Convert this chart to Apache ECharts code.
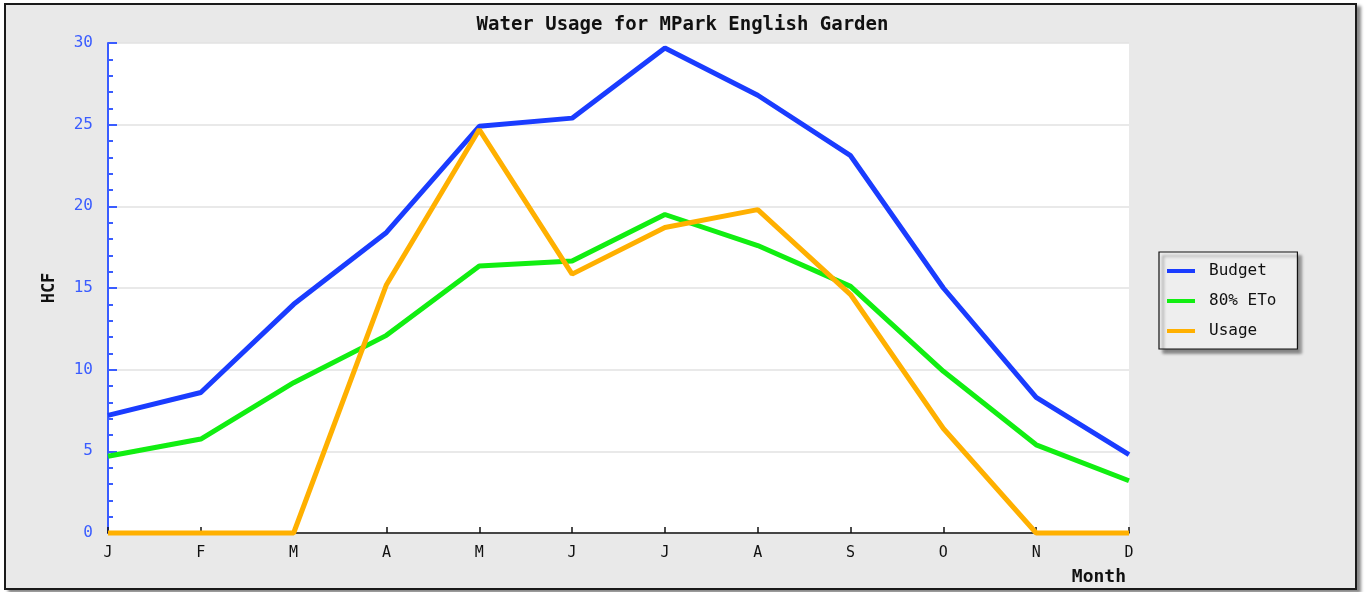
<!DOCTYPE html>
<html>
<head>
<meta charset="utf-8">
<script src="https://cdn.jsdelivr.net/npm/echarts@6/dist/echarts.min.js"></script>
<style>
  html, body { margin: 0; padding: 0; background: #ffffff; }
  #frame { position: absolute; left: 4px; top: 3px; width: 1349px; height: 583px;
           border: 2px solid #1a1a1a; background: #e9e9e9; box-shadow: 4px 3px 3px #888; }
  #chart { position: absolute; left: 0; top: 0; width: 1365px; height: 592px; }
</style>
</head>
<body>
<div id="frame"></div>
<div id="chart"></div>
<script>
const months = ['J', 'F', 'M', 'A', 'M', 'J', 'J', 'A', 'S', 'O', 'N', 'D'];
const budget = [7.2, 8.6, 14.0, 18.4, 24.9, 25.4, 29.7, 26.8, 23.1, 15.0, 8.3, 4.8];
const eto80 = [4.7, 5.75, 9.2, 12.1, 16.35, 16.65, 19.5, 17.6, 15.1, 9.9, 5.4, 3.2];
const usage = [0, 0, 0, 15.2, 24.7, 15.85, 18.7, 19.8, 14.6, 6.4, 0, 0];
const seriesNames = ['Budget', '80% ETo', 'Usage'];
const colors = ['#1a3cff', '#11ee11', '#ffb000'];

const mono = 'DejaVu Sans Mono';
const chart = echarts.init(document.getElementById('chart'), null, { renderer: 'canvas' });
chart.setOption({
  backgroundColor: 'transparent',
  animation: false,
  color: colors,
  title: {
    text: 'Water Usage for MPark English Garden',
    left: 'center', top: 11,
    textStyle: { fontFamily: mono, fontWeight: 'bold', fontSize: 19, color: '#111' }
  },
  legend: {
    orient: 'vertical',
    left: 1159, top: 252,
    padding: [11, 21, 10, 8],
    itemGap: 14,
    itemWidth: 28, itemHeight: 4,
    icon: 'rect',
    backgroundColor: '#eeeeee',
    borderColor: '#111', borderWidth: 1.2,
    shadowColor: 'rgba(0,0,0,0.45)', shadowBlur: 3, shadowOffsetX: 4, shadowOffsetY: 4,
    textStyle: { fontFamily: mono, fontSize: 16, color: '#111', padding: [0, 0, 0, 9] },
    data: seriesNames
  },
  grid: {
    left: 108, right: 236, top: 43, bottom: 59,
    show: true, backgroundColor: '#ffffff', borderWidth: 0
  },
  xAxis: {
    type: 'category',
    data: months,
    boundaryGap: false,
    name: 'Month',
    nameLocation: 'end',
    nameGap: 0,
    nameTextStyle: { fontFamily: mono, fontWeight: 'bold', fontSize: 18, color: '#111',
                     align: 'right', verticalAlign: 'top', padding: [35, 3, 0, 0] },
    axisLine: { lineStyle: { color: '#111', width: 1.5 } },
    axisTick: { inside: true, length: 6, alignWithLabel: true, lineStyle: { color: '#111', width: 1.5 } },
    axisLabel: { fontFamily: mono, fontSize: 15, color: '#111', margin: 13 },
    splitLine: { show: false }
  },
  yAxis: {
    type: 'value',
    min: 0, max: 30, interval: 5,
    name: 'HCF',
    nameLocation: 'middle',
    nameGap: 50,
    nameRotate: 90,
    nameTextStyle: { fontFamily: mono, fontWeight: 'bold', fontSize: 17, color: '#111' },
    axisLine: { show: true, lineStyle: { color: '#3a5cff', width: 2 } },
    axisTick: { show: true, inside: true, length: 9, lineStyle: { color: '#3a5cff', width: 2 } },
    minorTick: { show: true, splitNumber: 5, length: 5, lineStyle: { color: '#3a5cff', width: 2 } },
    axisLabel: { fontFamily: mono, fontSize: 16, color: '#3a5cff', margin: 15 },
    splitLine: { show: true, lineStyle: { color: '#e2e2e2', width: 1.5 } }
  },
  series: [
    { name: seriesNames[0], type: 'line', data: budget, symbol: 'none', clip: false,
      lineStyle: { width: 5, color: colors[0] } },
    { name: seriesNames[1], type: 'line', data: eto80, symbol: 'none', clip: false,
      lineStyle: { width: 5, color: colors[1] } },
    { name: seriesNames[2], type: 'line', data: usage, symbol: 'none', clip: false,
      lineStyle: { width: 5, color: colors[2] } }
  ]
});
</script>
</body>
</html>
